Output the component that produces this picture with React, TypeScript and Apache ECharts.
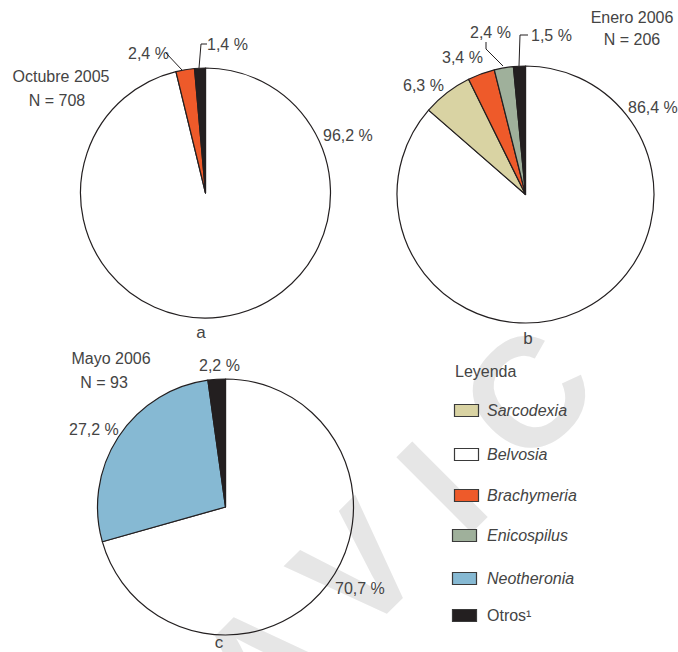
import React, { useEffect, useRef } from "react";
import * as echarts from "echarts";

// ---------- data ----------
const LEGEND_TITLE = "Leyenda";
const CATEGORIES = ["Sarcodexia", "Belvosia", "Brachymeria", "Enicospilus", "Neotheronia", "Otros"];

const PIE_A_TITLE = "Octubre 2005";
const PIE_A_N = 708;
const PIE_A_NAMES = ["Belvosia", "Brachymeria", "Otros"];
const PIE_A_VALUES = [96.2, 2.4, 1.4];
const PIE_A_TAG = "a";

const PIE_B_TITLE = "Enero 2006";
const PIE_B_N = 206;
const PIE_B_NAMES = ["Belvosia", "Sarcodexia", "Brachymeria", "Enicospilus", "Otros"];
const PIE_B_VALUES = [86.4, 6.3, 3.4, 2.4, 1.5];
const PIE_B_TAG = "b";

const PIE_C_TITLE = "Mayo 2006";
const PIE_C_N = 93;
const PIE_C_NAMES = ["Belvosia", "Neotheronia", "Otros"];
const PIE_C_VALUES = [70.7, 27.2, 2.2];
const PIE_C_TAG = "c";

const WATERMARK = ["A", "V", "I", "C"];

// ---------- styles / layout ----------
const COLOR: Record<string, string> = {
  Sarcodexia: "#d9d3a3",
  Belvosia: "#ffffff",
  Brachymeria: "#ee5a2a",
  Enicospilus: "#9fb09b",
  Neotheronia: "#86b9d3",
  Otros: "#231f20",
};
const INK = "#231f20";
const TXT = "#444444";
const FONT = "'Liberation Sans', Arial, sans-serif";

const PIES = [
  {
    names: PIE_A_NAMES, values: PIE_A_VALUES, title: PIE_A_TITLE, n: PIE_A_N, tag: PIE_A_TAG,
    center: [205.5, 193], r: 125,
    titlePos: [[61, 76], [57, 100]], tagPos: [201, 332],
    labelPos: [[323, 135, "left"], [128, 53, "left"], [207, 44, "left"]],
    leaders: [null, [[166, 53], [182, 70]], [[199, 68], [201, 44], [207, 44]]],
  },
  {
    names: PIE_B_NAMES, values: PIE_B_VALUES, title: PIE_B_TITLE, n: PIE_B_N, tag: PIE_B_TAG,
    center: [525.5, 194.5], r: 128.5,
    titlePos: [[632, 17], [632, 39]], tagPos: [528, 338],
    labelPos: [[628, 107, "left"], [403, 85, "left"], [442, 57, "left"], [470, 32, "left"], [531, 35, "left"]],
    leaders: [null, null, null, [[486, 42], [486, 49], [503, 66]], [[519, 66], [520, 35], [528, 35]]],
  },
  {
    names: PIE_C_NAMES, values: PIE_C_VALUES, title: PIE_C_TITLE, n: PIE_C_N, tag: PIE_C_TAG,
    center: [225.5, 507], r: 128,
    titlePos: [[111, 358], [104, 382]], tagPos: [219, 642],
    labelPos: [[335, 588, "left"], [69, 429, "left"], [199, 365, "left"]],
    leaders: [null, null, null],
  },
];

const LEGEND_X = 454;
const LEGEND_BOX_X = [454, 454, 454, 452, 452, 452];
const LEGEND_Y = [410, 454, 495, 535, 578, 615];
const WATERMARK_POS = [[262, 664], [357, 568], [442, 487], [527, 394]];

function fmt(v: number) {
  return v.toFixed(1).replace(".", ",") + " %";
}

function text(x: number, y: number, t: string, opts: any = {}) {
  const align = opts.align || "left";
  return {
    type: "text",
    x, y, z: 100, silent: true,
    rotation: opts.rotation || 0,
    style: {
      text: t,
      fill: opts.fill || TXT,
      font: opts.font || `16px ${FONT}`,
      textAlign: align, align,
      textVerticalAlign: "middle", verticalAlign: "middle",
    },
  };
}

export default function App() {
  const ref = useRef<HTMLDivElement>(null);
  useEffect(() => {
    if (!ref.current) return;
    const chart = echarts.init(ref.current, undefined, { renderer: "svg" });
    const graphics: any[] = [];

    // watermark
    WATERMARK.forEach((ch, i) => {
      graphics.push({
        type: "text", x: WATERMARK_POS[i][0], y: WATERMARK_POS[i][1], z: -10, silent: true,
        rotation: Math.PI / 4,
        style: {
          text: ch, fill: "#e6e6e6", font: `bold 155px ${FONT}`,
          textAlign: "center", align: "center", textVerticalAlign: "middle", verticalAlign: "middle",
        },
      });
    });

    const series: any[] = [];
    PIES.forEach((p) => {
      series.push({
        type: "pie",
        center: p.center,
        radius: p.r,
        startAngle: 90,
        clockwise: true,
        silent: true,
        z: 5,
        label: { show: false },
        labelLine: { show: false },
        emphasis: { disabled: true },
        itemStyle: { borderColor: INK, borderWidth: 1.2 },
        data: p.names.map((nm, i) => ({
          name: nm,
          value: p.values[i],
          itemStyle: { color: nm === "Belvosia" ? "rgba(255,255,255,0)" : COLOR[nm] },
        })),
      });
      graphics.push(text(p.titlePos[0][0], p.titlePos[0][1], p.title, { align: "center" }));
      graphics.push(text(p.titlePos[1][0], p.titlePos[1][1], `N = ${p.n}`, { align: "center" }));
      graphics.push(text(p.tagPos[0], p.tagPos[1], p.tag, { align: "center", font: `17px ${FONT}` }));
      p.values.forEach((v, i) => {
        const lp: any = p.labelPos[i];
        graphics.push(text(lp[0], lp[1], fmt(v), { align: lp[2] }));
        const ld: any = p.leaders[i];
        if (ld) {
          graphics.push({
            type: "polyline", z: 100, silent: true,
            shape: { points: ld },
            style: { stroke: INK, lineWidth: 1, fill: null },
          });
        }
      });
    });

    // legend
    graphics.push(text(LEGEND_X + 1, 371, LEGEND_TITLE, { font: `16px ${FONT}` }));
    CATEGORIES.forEach((c, i) => {
      graphics.push({
        type: "rect", z: 100, silent: true,
        shape: { x: LEGEND_BOX_X[i] + 0.5, y: LEGEND_Y[i] - 6 + 0.5, width: 24, height: 12 },
        style: { fill: COLOR[c], stroke: "#3a3a3a", lineWidth: 1.2 },
      });
      const italic = c !== "Otros";
      graphics.push(
        text(487, LEGEND_Y[i], c === "Otros" ? "Otros\u00B9" : c, {
          font: `${italic ? "italic " : ""}16px ${FONT}`,
        })
      );
    });

    chart.setOption({
      animation: false,
      backgroundColor: "#ffffff",
      series,
      graphic: { elements: graphics },
    });
    return () => chart.dispose();
  }, []);
  return (
    <div
      ref={ref}
      style={{ position: "fixed", left: 0, top: 0, width: 678, height: 652, background: "#fff" }}
    />
  );
}
